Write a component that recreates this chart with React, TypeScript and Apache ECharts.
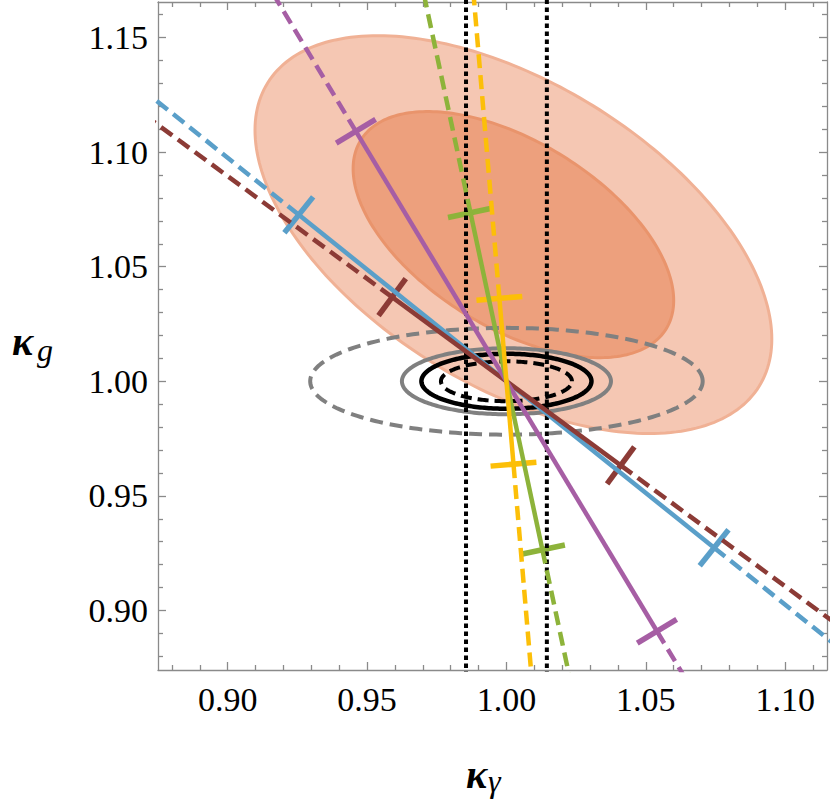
import React, { useEffect, useRef } from 'react';
import * as echarts from 'echarts';

// ---- axis ranges and ticks ----
const X_MIN = 0.875;
const X_MAX = 1.115;
const Y_MIN = 0.874;
const Y_MAX = 1.1655;
const xMajorTicks = [0.9, 0.95, 1.0, 1.05, 1.1];
const xMinorTicks = [0.88, 0.89, 0.91, 0.92, 0.93, 0.94, 0.96, 0.97, 0.98, 0.99, 1.01, 1.02, 1.03, 1.04, 1.06, 1.07, 1.08, 1.09, 1.11];
const yMajorTicks = [0.9, 0.95, 1.0, 1.05, 1.1, 1.15];
const yMinorTicks = [0.88, 0.89, 0.91, 0.92, 0.93, 0.94, 0.96, 0.97, 0.98, 0.99, 1.01, 1.02, 1.03, 1.04, 1.06, 1.07, 1.08, 1.09, 1.11, 1.12, 1.13, 1.14, 1.16];

// ---- confidence ellipses (center, half-extent in x / y, correlation) ----
const ellipseCx = [1.0025, 1.0025, 1.0, 1.0, 1.0, 1.0];
const ellipseCy = [1.064, 1.064, 1.0, 1.0, 1.0, 1.0];
const ellipseRx = [0.0927, 0.0575, 0.0704, 0.0375, 0.0305, 0.0235];
const ellipseRy = [0.0868, 0.0537, 0.0233, 0.0144, 0.012, 0.0087];
const ellipseRho = [-0.525, -0.535, 0, 0, 0, 0];
const ellipseFill = ['#f5c7b3', '#eda07d', 'none', 'none', 'none', 'none'];
const ellipseStroke = ['#f0b195', '#e9946c', '#808080', '#808080', '#000000', '#000000'];
const ellipseWidth = [3, 3, 4, 4, 4.5, 4];
const ellipseDash: (number[] | null)[] = [null, null, [13, 7], null, null, [11, 6]];

// ---- lines through the SM point ----
const lineCenter = [1.0, 1.0];
const lineSlopes = [-0.975, -0.895, -2.02, -5.7, -14.3];
const lineCrossDx = [0.0745, 0.041, 0.054, 0.0129, 0.00253];
const lineColors = ['#5a9fc9', '#8c3b36', '#a65ea4', '#8db33a', '#fcbf08'];

// ---- vertical dotted bounds ----
const verticalBounds = [0.9855, 1.0145];

const AXIS_COLOR = '#8a8a8a';
const SERIF = 'Liberation Serif';

function ellipsePoints(i: number): number[][] {
  const pts: number[][] = [];
  const n = 240;
  const r = ellipseRho[i];
  const s = Math.sqrt(1 - r * r);
  for (let k = 0; k <= n; k++) {
    const t = (2 * Math.PI * k) / n;
    pts.push([
      ellipseCx[i] + ellipseRx[i] * Math.cos(t),
      ellipseCy[i] + ellipseRy[i] * (r * Math.cos(t) + s * Math.sin(t)),
    ]);
  }
  return pts;
}

function axisDef(dim: 'x' | 'y', position: string, ticks: number[], len: number, labels: boolean, line: boolean) {
  return {
    type: 'value',
    position,
    min: dim === 'x' ? X_MIN : Y_MIN,
    max: dim === 'x' ? X_MAX : Y_MAX,
    axisLine: { show: line, onZero: false, lineStyle: { color: AXIS_COLOR, width: 1.3 } },
    axisTick: { show: true, inside: true, length: len, customValues: ticks, lineStyle: { color: AXIS_COLOR, width: 1.3 } },
    axisLabel: labels
      ? {
          show: true,
          customValues: ticks,
          formatter: (v: number) => v.toFixed(2),
          fontFamily: SERIF,
          fontSize: 34,
          color: '#000',
          margin: dim === 'x' ? 12 : 10,
        }
      : { show: false },
    splitLine: { show: false },
  };
}

export default function App() {
  const ref = useRef<HTMLDivElement>(null);
  useEffect(() => {
    if (!ref.current) return;
    const chart = echarts.init(ref.current, null, { renderer: 'svg' });
    const series: any[] = [];

    // ellipses
    ellipseCx.forEach((_, i) => {
      const pts = ellipsePoints(i);
      series.push({
        type: 'custom',
        silent: true,
        data: [[ellipseCx[i], ellipseCy[i]]],
        renderItem: (_p: any, api: any) => ({
          type: 'polygon',
          shape: { points: pts.map((p) => api.coord(p)) },
          style: {
            fill: ellipseFill[i],
            stroke: ellipseStroke[i],
            lineWidth: ellipseWidth[i],
            lineDash: ellipseDash[i] || undefined,
          },
        }),
      });
    });

    // vertical dotted lines
    verticalBounds.forEach((x) => {
      series.push({
        type: 'line',
        silent: true,
        symbol: 'none',
        data: [[x, Y_MAX + 0.05], [x, Y_MIN - 0.05]],
        lineStyle: { color: '#000', width: 4, type: [4.5, 3.5] },
      });
    });

    // colored lines + crosses
    lineSlopes.forEach((k, i) => {
      const [cx, cy] = lineCenter;
      const d = lineCrossDx[i];
      const far = Math.max(0.2, 0.35 / Math.abs(k));
      const p1 = [cx - d, cy - k * d];
      const p2 = [cx + d, cy + k * d];
      const e1 = [cx - far, cy - k * far];
      const e2 = [cx + far, cy + k * far];
      const common = { type: 'line', silent: true, symbol: 'none', clip: true };
      series.push({ ...common, data: [p1, e1], lineStyle: { color: lineColors[i], width: 4.5, type: [14, 7] } });
      series.push({ ...common, data: [p2, e2], lineStyle: { color: lineColors[i], width: 4.5, type: [14, 7] } });
      series.push({ ...common, data: [p1, p2], lineStyle: { color: lineColors[i], width: 4.5, type: 'solid' } });
      series.push({
        type: 'custom',
        silent: true,
        data: [
          [p1[0], p1[1], k],
          [p2[0], p2[1], k],
        ],
        renderItem: (_p: any, api: any) => {
          const x = api.value(0);
          const y = api.value(1);
          const s = api.value(2);
          const a = api.coord([x, y]);
          const b = api.coord([x + 0.01, y + s * 0.01]);
          let dx = b[0] - a[0];
          let dy = b[1] - a[1];
          const L = Math.hypot(dx, dy);
          dx /= L;
          dy /= L;
          const h = 23;
          return {
            type: 'line',
            shape: { x1: a[0] - dy * h, y1: a[1] + dx * h, x2: a[0] + dy * h, y2: a[1] - dx * h },
            style: { stroke: lineColors[i], lineWidth: 5.5 },
          };
        },
      });
    });

    chart.setOption({
      animation: false,
      backgroundColor: '#ffffff',
      grid: { left: 158, top: 2, width: 669, height: 668, containLabel: false },
      xAxis: [
        axisDef('x', 'bottom', xMajorTicks, 8, true, true),
        axisDef('x', 'bottom', xMinorTicks, 5, false, false),
        axisDef('x', 'top', xMajorTicks, 8, false, true),
        axisDef('x', 'top', xMinorTicks, 5, false, false),
      ],
      yAxis: [
        axisDef('y', 'left', yMajorTicks, 8, true, true),
        axisDef('y', 'left', yMinorTicks, 5, false, false),
        axisDef('y', 'right', yMajorTicks, 8, false, true),
        axisDef('y', 'right', yMinorTicks, 5, false, false),
      ],
      graphic: [
        {
          type: 'text',
          x: 12,
          y: 341,
          style: { text: 'κ', fontFamily: SERIF, fontStyle: 'italic', fontWeight: 'bold', fontSize: 40, fill: '#000', textVerticalAlign: 'middle' },
        },
        {
          type: 'text',
          x: 37,
          y: 350,
          style: { text: 'g', fontFamily: SERIF, fontStyle: 'italic', fontSize: 32, fill: '#000', textVerticalAlign: 'middle' },
        },
        {
          type: 'text',
          x: 466,
          y: 774,
          style: { text: 'κ', fontFamily: SERIF, fontStyle: 'italic', fontWeight: 'bold', fontSize: 40, fill: '#000', textVerticalAlign: 'middle' },
        },
        {
          type: 'text',
          x: 488,
          y: 781,
          style: { text: 'γ', fontFamily: SERIF, fontStyle: 'italic', fontSize: 32, fill: '#000', textVerticalAlign: 'middle' },
        },
      ],
      series,
    });
    return () => chart.dispose();
  }, []);
  return <div ref={ref} style={{ position: 'absolute', left: 0, top: 0, width: 830, height: 810, background: '#fff' }} />;
}
